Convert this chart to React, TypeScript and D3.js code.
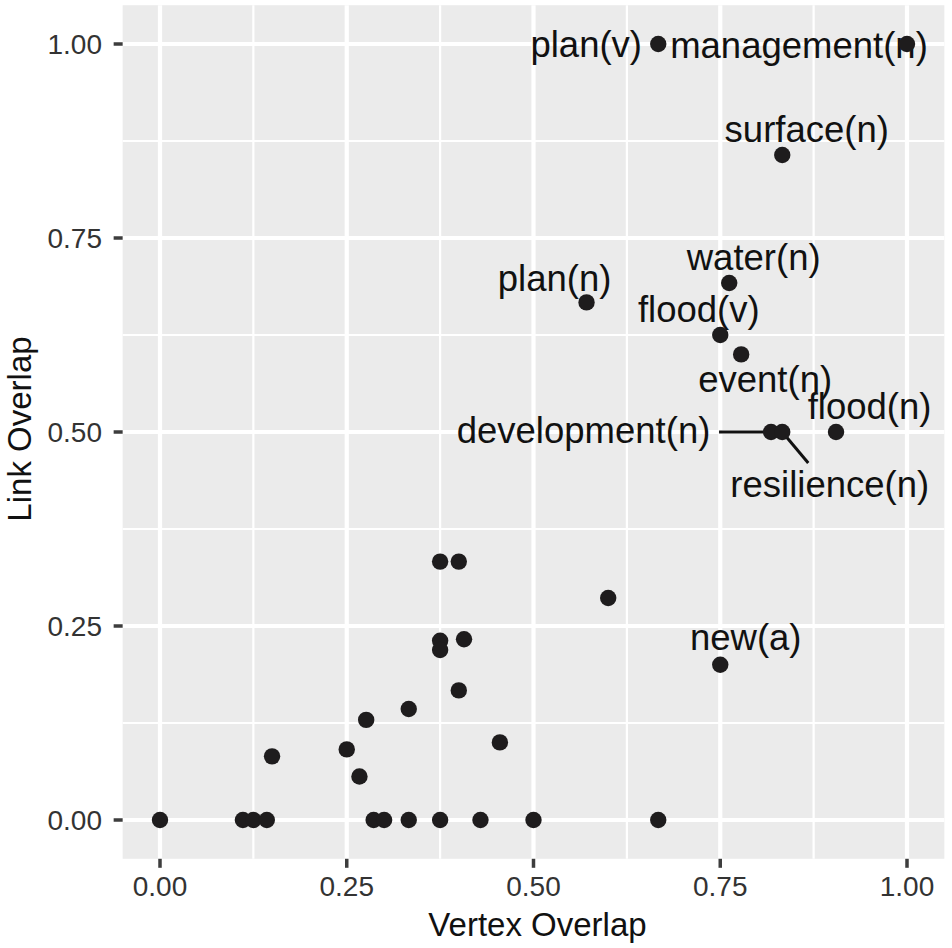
import React, { useEffect } from "react";
import * as d3 from "d3";

// ---- data ----
const vertexOverlap = [
  0, 0.111, 0.125, 0.143, 0.15, 0.25, 0.267, 0.276, 0.286, 0.3, 0.333, 0.333,
  0.375, 0.4, 0.375, 0.375, 0.407, 0.4, 0.375, 0.429, 0.455, 0.5, 0.6, 0.667,
  0.75, 0.571, 0.667, 1.0, 0.833, 0.762, 0.75, 0.778, 0.818, 0.833, 0.905,
];
const linkOverlap = [
  0, 0, 0, 0, 0.082, 0.091, 0.056, 0.129, 0, 0, 0.143, 0,
  0.333, 0.333, 0.231, 0.219, 0.233, 0.167, 0, 0, 0.1, 0, 0.286, 0,
  0.2, 0.667, 1.0, 1.0, 0.857, 0.692, 0.625, 0.6, 0.5, 0.5, 0.5,
];
const pointLabels = [
  "", "", "", "", "", "", "", "", "", "", "", "",
  "", "", "", "", "", "", "", "", "", "", "", "",
  "new(a)", "plan(n)", "plan(v)", "management(n)", "surface(n)", "water(n)",
  "flood(v)", "event(n)", "development(n)", "resilience(n)", "flood(n)",
];
const xTicks = [0, 0.25, 0.5, 0.75, 1];
const yTicks = [0, 0.25, 0.5, 0.75, 1];
const xTitle = "Vertex Overlap";
const yTitle = "Link Overlap";

// ---- label layout (repel offsets, px from point: text centre x, baseline y) ----
const labelLayout: Record<string, { dx: number; dy: number; seg?: [number, number] }> = {
  "new(a)": { dx: 25.5, dy: -15 },
  "plan(n)": { dx: -32, dy: -11 },
  "plan(v)": { dx: -72, dy: 13 },
  "management(n)": { dx: -108, dy: 14 },
  "surface(n)": { dx: 24.5, dy: -13 },
  "water(n)": { dx: 24.5, dy: -13 },
  "flood(v)": { dx: -21.5, dy: -13 },
  "event(n)": { dx: 24, dy: 38 },
  "development(n)": { dx: -187.5, dy: 11, seg: [-52, 0] },
  "resilience(n)": { dx: 47.5, dy: 65, seg: [26, 31] },
  "flood(n)": { dx: 33.5, dy: -13 },
};

const W = 952;
const H = 948;
const FONT = "'Liberation Sans', Arial, Helvetica, sans-serif";

export default function App() {
  useEffect(() => {
    document.body.style.margin = "0";
  }, []);

  const x = d3.scaleLinear().domain([0, 1]).range([160, 907]);
  const y = d3.scaleLinear().domain([0, 1]).range([820, 44]);
  const [px0, px1] = [x(-0.05), x(1.05)];
  const [py1, py0] = [y(-0.05), y(1.05)];

  const xMinor = xTicks.slice(0, -1).map((t, i) => (t + xTicks[i + 1]) / 2);
  const yMinor = yTicks.slice(0, -1).map((t, i) => (t + yTicks[i + 1]) / 2);

  const pts = vertexOverlap.map((v, i) => ({
    x: x(v),
    y: y(linkOverlap[i]),
    label: pointLabels[i],
  }));

  return (
    <div style={{ position: "absolute", left: 0, top: 0 }}>
      <svg width={W} height={H} style={{ display: "block", background: "#fff" }}>
        <rect x={px0} y={py0} width={px1 - px0} height={py1 - py0} fill="#EBEBEB" />
        {xMinor.map((t) => (
          <line key={"xm" + t} x1={x(t)} x2={x(t)} y1={py0} y2={py1} stroke="#fff" strokeWidth={2.2} />
        ))}
        {yMinor.map((t) => (
          <line key={"ym" + t} y1={y(t)} y2={y(t)} x1={px0} x2={px1} stroke="#fff" strokeWidth={2.2} />
        ))}
        {xTicks.map((t) => (
          <line key={"xg" + t} x1={x(t)} x2={x(t)} y1={py0} y2={py1} stroke="#fff" strokeWidth={4.2} />
        ))}
        {yTicks.map((t) => (
          <line key={"yg" + t} y1={y(t)} y2={y(t)} x1={px0} x2={px1} stroke="#fff" strokeWidth={4.2} />
        ))}

        {/* axes ticks */}
        {xTicks.map((t) => (
          <g key={"xt" + t}>
            <line x1={x(t)} x2={x(t)} y1={py1} y2={py1 + 9} stroke="#3d3d3d" strokeWidth={3.5} />
            <text x={x(t)} y={896} textAnchor="middle" fontFamily={FONT} fontSize={28} fill="#333">
              {d3.format(".2f")(t)}
            </text>
          </g>
        ))}
        {yTicks.map((t) => (
          <g key={"yt" + t}>
            <line x1={px0 - 9} x2={px0} y1={y(t)} y2={y(t)} stroke="#3d3d3d" strokeWidth={3.5} />
            <text x={102} y={y(t) + 10} textAnchor="end" fontFamily={FONT} fontSize={28} fill="#333">
              {d3.format(".2f")(t)}
            </text>
          </g>
        ))}

        <text x={(px0 + px1) / 2 + 4} y={936} textAnchor="middle" fontFamily={FONT} fontSize={33} fill="#111">
          {xTitle}
        </text>
        <text
          transform={`translate(31,${(py0 + py1) / 2 - 3}) rotate(-90)`}
          textAnchor="middle"
          fontFamily={FONT}
          fontSize={33}
          fill="#111"
        >
          {yTitle}
        </text>

        {/* label segments and labels */}
        {pts
          .filter((p) => p.label && labelLayout[p.label]?.seg)
          .map((p) => {
            const s = labelLayout[p.label].seg!;
            return (
              <line key={"s" + p.label} x1={p.x} y1={p.y} x2={p.x + s[0]} y2={p.y + s[1]} stroke="#111" strokeWidth={3} />
            );
          })}
        {pts
          .filter((p) => p.label)
          .map((p) => {
            const l = labelLayout[p.label];
            return (
              <text
                key={"l" + p.label}
                x={p.x + l.dx}
                y={p.y + l.dy}
                textAnchor="middle"
                fontFamily={FONT}
                fontSize={36.5}
                fill="#111"
              >
                {p.label}
              </text>
            );
          })}

        {pts.map((p, i) => (
          <circle key={"p" + i} cx={p.x} cy={p.y} r={8.2} fill="#1e1c1d" />
        ))}
      </svg>
    </div>
  );
}
